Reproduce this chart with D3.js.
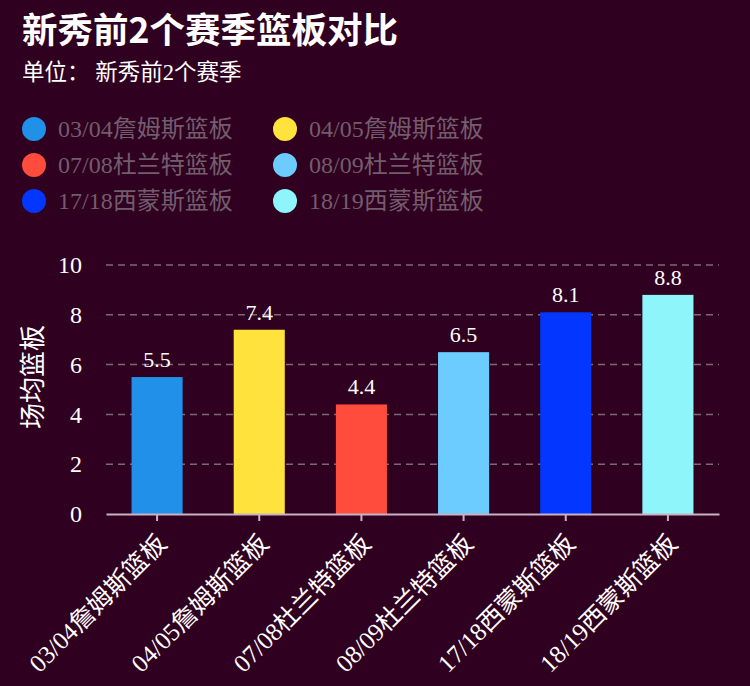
<!DOCTYPE html>
<html>
<head>
<meta charset="utf-8">
<script src="https://cdn.jsdelivr.net/npm/d3@7"></script>
<style>
  html, body { margin: 0; padding: 0; background: #300020; }
  svg { display: block; }
</style>
</head>
<body>
<div id="chart"></div>
<script>
var categories = ["03/04詹姆斯篮板", "04/05詹姆斯篮板", "07/08杜兰特篮板", "08/09杜兰特篮板", "17/18西蒙斯篮板", "18/19西蒙斯篮板"];
var values = [5.5, 7.4, 4.4, 6.5, 8.1, 8.8];
var colors = ["#2190e8", "#ffe23c", "#ff4c3c", "#6ccbff", "#0337ff", "#8ef6fb"];
var yTicks = [0, 2, 4, 6, 8, 10];

var width = 750,
    height = 686;

var font = "'Liberation Serif', 'Noto Sans CJK SC', serif";

var margin = {top: 265, right: 31, bottom: 172, left: 106};

var svg = d3.select("#chart").append("svg")
    .attr("width", width)
    .attr("height", height)
    .style("background", "#300020");

// titles
svg.append("text")
    .attr("x", 22).attr("y", 43)
    .attr("fill", "#ffffff")
    .attr("font-family", "'Noto Sans CJK SC', sans-serif")
    .attr("font-weight", "bold")
    .attr("font-size", 35.5)
    .text("新秀前2个赛季篮板对比");

svg.append("text")
    .attr("x", 22).attr("y", 80)
    .attr("fill", "#ffffff")
    .attr("font-family", font)
    .attr("font-size", 22.5)
    .text("单位： 新秀前2个赛季");

// legend, two columns
var legend = svg.selectAll(".legend")
    .data(categories).enter().append("g")
    .attr("class", "legend")
    .attr("transform", function (d, i) {
        var col = i % 2, row = Math.floor(i / 2);
        return "translate(" + (34 + col * 251) + "," + (129 + row * 36) + ")";
    });

legend.append("circle")
    .attr("r", 12)
    .attr("fill", function (d, i) { return colors[i]; });

legend.append("text")
    .attr("x", 24)
    .attr("y", 8)
    .attr("fill", "#725d6d")
    .attr("font-family", font)
    .attr("font-size", 24)
    .text(function (d) { return d; });

var x = d3.scaleBand()
    .domain(categories)
    .range([margin.left, width - margin.right])
    .paddingInner(0.5)
    .paddingOuter(0.25);

var y = d3.scaleLinear()
    .domain([0, 10])
    .range([height - margin.bottom, margin.top]);

// grid
svg.append("g").selectAll("line")
    .data(yTicks.slice(1)).enter().append("line")
    .attr("x1", margin.left)
    .attr("x2", width - margin.right)
    .attr("y1", function (d) { return y(d); })
    .attr("y2", function (d) { return y(d); })
    .attr("stroke", "#7a6a76")
    .attr("stroke-width", 1.5)
    .attr("stroke-dasharray", "7,5");

// y axis
var yAxis = svg.append("g")
    .attr("transform", "translate(" + margin.left + ",0)")
    .call(d3.axisLeft(y).tickValues(yTicks).tickSize(0).tickPadding(24));
yAxis.select(".domain").remove();
yAxis.selectAll("text")
    .attr("fill", "#ffffff")
    .attr("font-family", font)
    .attr("font-size", 24);

svg.append("text")
    .attr("transform", "translate(42," + y(5.5) + ") rotate(-90)")
    .attr("text-anchor", "middle")
    .attr("fill", "#ffffff")
    .attr("font-family", font)
    .attr("font-size", 26)
    .text("场均篮板");

// bars
svg.selectAll(".bar")
    .data(values).enter().append("rect")
    .attr("class", "bar")
    .attr("x", function (d, i) { return x(categories[i]); })
    .attr("width", x.bandwidth())
    .attr("y", function (d) { return y(d); })
    .attr("height", function (d) { return y(0) - y(d); })
    .attr("fill", function (d, i) { return colors[i]; });

svg.selectAll(".val")
    .data(values).enter().append("text")
    .attr("class", "val")
    .attr("x", function (d, i) { return x(categories[i]) + x.bandwidth() / 2; })
    .attr("y", function (d) { return y(d) - 10; })
    .attr("text-anchor", "middle")
    .attr("fill", "#ffffff")
    .attr("font-family", font)
    .attr("font-size", 22)
    .text(function (d) { return d; });

// x axis
var xAxis = svg.append("g")
    .attr("transform", "translate(0," + y(0) + ")")
    .call(d3.axisBottom(x).tickSize(7).tickSizeOuter(0));
xAxis.select(".domain")
    .attr("stroke", "#c9b2c2")
    .attr("stroke-width", 2);
xAxis.selectAll(".tick line")
    .attr("stroke", "#c9b2c2")
    .attr("stroke-width", 2);
xAxis.selectAll("text")
    .attr("fill", "#ffffff")
    .attr("font-family", font)
    .attr("font-size", 25)
    .attr("text-anchor", "end")
    .attr("dx", 0)
    .attr("dy", 0)
    .attr("transform", "translate(11,31) rotate(-45)")
    .attr("y", 0);
</script>
</body>
</html>
